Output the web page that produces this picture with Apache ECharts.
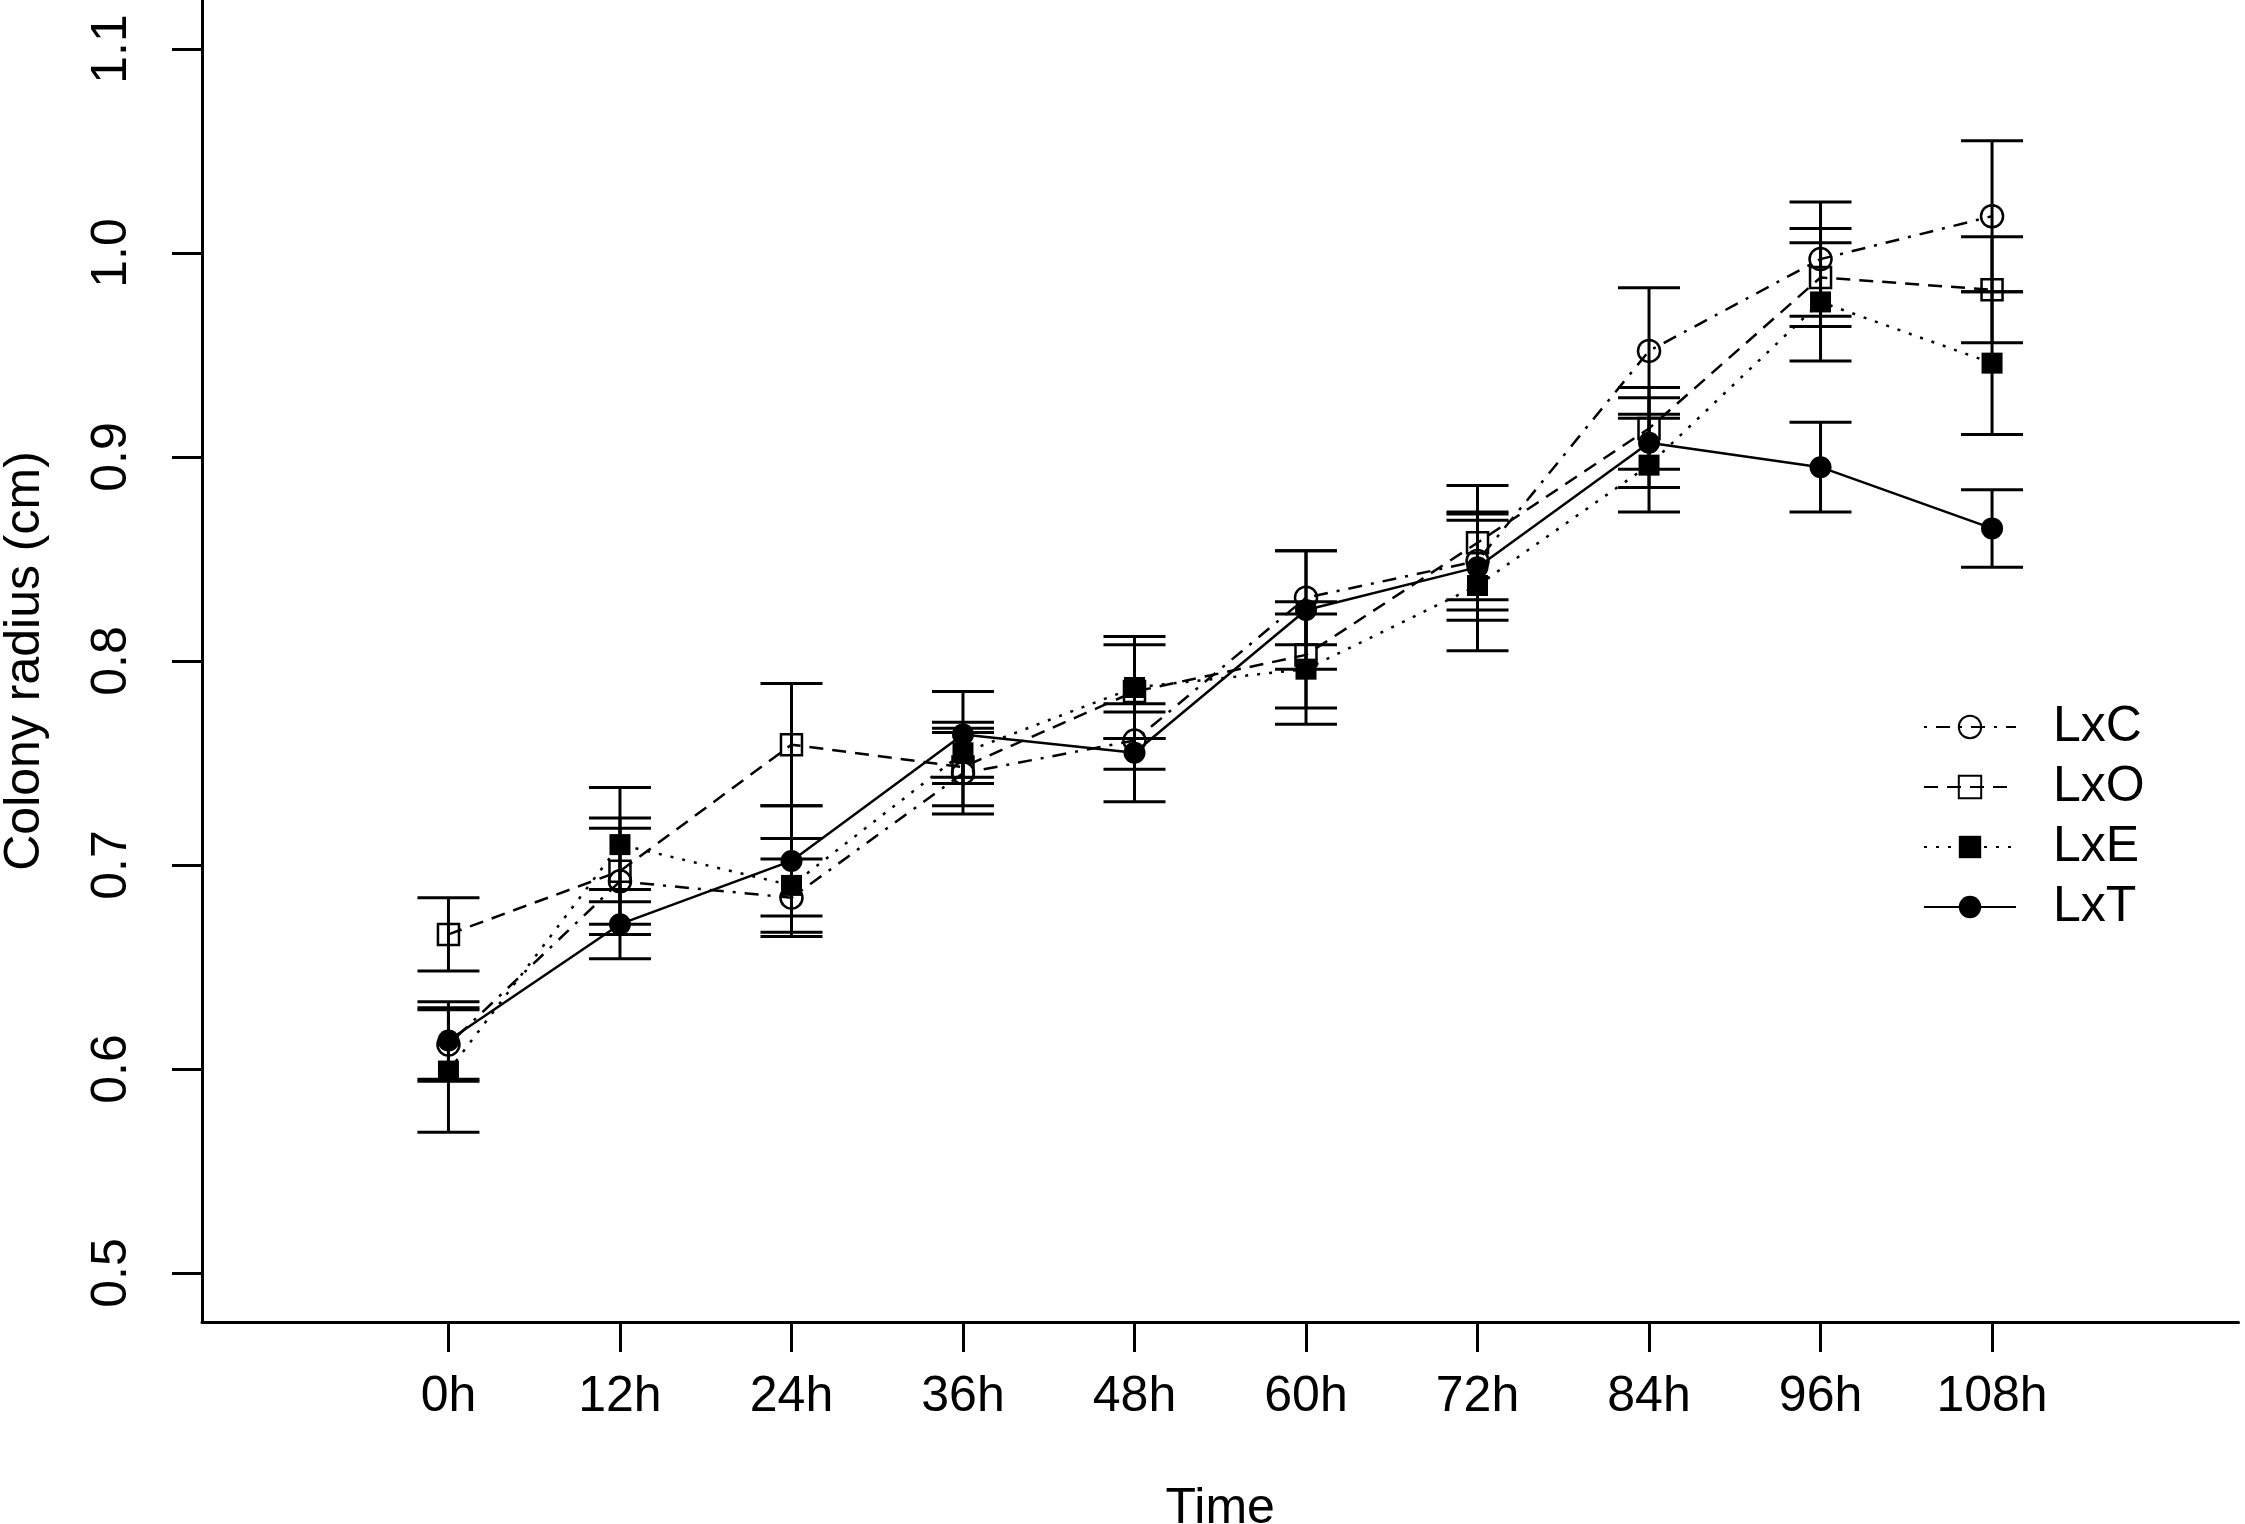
<!DOCTYPE html>
<html>
<head>
    <meta charset="utf-8">
    <title>Colony radius</title>
    <script src="https://cdn.jsdelivr.net/npm/echarts@6/dist/echarts.min.js"></script>
    <style>
        html, body { margin: 0; padding: 0; background: #fff; }
        #main { width: 2245px; height: 1524px; }
    </style>
</head>
<body>
<div id="main"></div>
<script type="text/javascript">
    // time points and y ticks
    var times = ['0h', '12h', '24h', '36h', '48h', '60h', '72h', '84h', '96h', '108h'];
    var yTicks = [0.5, 0.6, 0.7, 0.8, 0.9, 1.0, 1.1];

    // means and error (half bar length)
    var lxcMean = [0.612, 0.692, 0.684, 0.745, 0.761, 0.831, 0.849, 0.952, 0.997, 1.018];
    var lxcErr  = [0.018, 0.026, 0.019, 0.020, 0.014, 0.023, 0.024, 0.031, 0.028, 0.037];
    var lxoMean = [0.666, 0.697, 0.759, 0.748, 0.785, 0.803, 0.858, 0.914, 0.988, 0.982];
    var lxoErr  = [0.018, 0.026, 0.030, 0.019, 0.023, 0.026, 0.028, 0.020, 0.024, 0.026];
    var lxeMean = [0.599, 0.710, 0.690, 0.755, 0.787, 0.796, 0.837, 0.896, 0.976, 0.946];
    var lxeErr  = [0.030, 0.028, 0.023, 0.015, 0.025, 0.027, 0.032, 0.023, 0.029, 0.035];
    var lxtMean = [0.614, 0.671, 0.702, 0.764, 0.755, 0.825, 0.846, 0.907, 0.895, 0.865];
    var lxtErr  = [0.019, 0.017, 0.027, 0.021, 0.024, 0.029, 0.026, 0.022, 0.022, 0.019];

    var FONT = '"Liberation Sans", Arial, sans-serif';
    var xPos = times.map(function (t, i) { return i + 1; });

    function points(mean) {
        return mean.map(function (v, i) { return [i + 1, v]; });
    }
    function bars(mean, err) {
        return mean.map(function (v, i) { return [i + 1, v - err[i], v + err[i]]; });
    }

    function errItem(params, api) {
        var x = api.value(0);
        var top = api.coord([x, api.value(2)]);
        var bot = api.coord([x, api.value(1)]);
        var w = 31;
        var st = { stroke: '#000', lineWidth: 3 };
        return {
            type: 'group',
            children: [
                { type: 'line', shape: { x1: top[0], y1: top[1], x2: bot[0], y2: bot[1] }, style: st },
                { type: 'line', shape: { x1: top[0] - w, y1: top[1], x2: top[0] + w, y2: top[1] }, style: st },
                { type: 'line', shape: { x1: bot[0] - w, y1: bot[1], x2: bot[0] + w, y2: bot[1] }, style: st }
            ]
        };
    }

    function errSeries(name, mean, err) {
        return {
            name: name,
            type: 'custom',
            renderItem: errItem,
            data: bars(mean, err),
            encode: { x: 0, y: [1, 2] },
            z: 1,
            silent: true
        };
    }

    function lineSeries(name, mean, dash, symbol, filled, size) {
        return {
            name: name,
            type: 'line',
            data: points(mean),
            symbol: symbol,
            symbolSize: size,
            showAllSymbol: true,
            lineStyle: { color: '#000', width: 2.5, type: dash },
            itemStyle: {
                color: filled ? '#000' : 'rgba(0,0,0,0)',
                borderColor: '#000',
                borderWidth: filled ? 0 : 2.5
            },
            z: 3
        };
    }

    var chart = echarts.init(document.getElementById('main'));

    var option = {
        animation: false,
        backgroundColor: '#fff',
        grid: { left: 202, right: 6.5, top: 0, bottom: 202, containLabel: false, outerBoundsMode: 'none' },
        legend: {
            orient: 'vertical',
            left: 1918,
            top: 697,
            itemWidth: 92,
            itemHeight: 28,
            itemGap: 10,
            data: ['LxC', 'LxO', 'LxE', 'LxT'],
            textStyle: { fontSize: 50, fontFamily: FONT, color: '#000', lineHeight: 50, padding: [0, 0, 0, 32] }
        },
        xAxis: {
            type: 'value',
            min: -0.437,
            max: 11.437,
            name: 'Time',
            nameLocation: 'middle',
            nameGap: 162,
            nameTextStyle: { fontSize: 50, fontFamily: FONT, color: '#000' },
            axisLine: { onZero: false, lineStyle: { color: '#000', width: 3 } },
            axisTick: { length: 30, customValues: xPos, lineStyle: { color: '#000', width: 3 } },
            axisLabel: {
                customValues: xPos,
                margin: 50,
                fontSize: 50,
                fontFamily: FONT,
                color: '#000',
                formatter: function (v) { return times[Math.round(v) - 1]; }
            },
            splitLine: { show: false }
        },
        yAxis: {
            type: 'value',
            min: 0.476,
            max: 1.124,
            name: 'Colony radius (cm)',
            nameLocation: 'middle',
            nameGap: 152,
            nameTextStyle: { fontSize: 50, fontFamily: FONT, color: '#000' },
            axisLine: { show: true, onZero: false, lineStyle: { color: '#000', width: 3 } },
            axisTick: { length: 30, customValues: yTicks, lineStyle: { color: '#000', width: 3 } },
            axisLabel: {
                customValues: yTicks,
                rotate: 90,
                margin: 65,
                fontSize: 50,
                fontFamily: FONT,
                color: '#000',
                formatter: function (v) { return v.toFixed(1); }
            },
            splitLine: { show: false }
        },
        series: [
            errSeries('LxC_err', lxcMean, lxcErr),
            errSeries('LxO_err', lxoMean, lxoErr),
            errSeries('LxE_err', lxeMean, lxeErr),
            errSeries('LxT_err', lxtMean, lxtErr),
            lineSeries('LxC', lxcMean, [3, 9, 14, 9], 'circle', false, 22),
            lineSeries('LxO', lxoMean, [14, 9], 'rect', false, 21),
            lineSeries('LxE', lxeMean, [3, 9], 'rect', true, 21),
            lineSeries('LxT', lxtMean, 'solid', 'circle', true, 22)
        ]
    };

    chart.setOption(option);
</script>
</body>
</html>
